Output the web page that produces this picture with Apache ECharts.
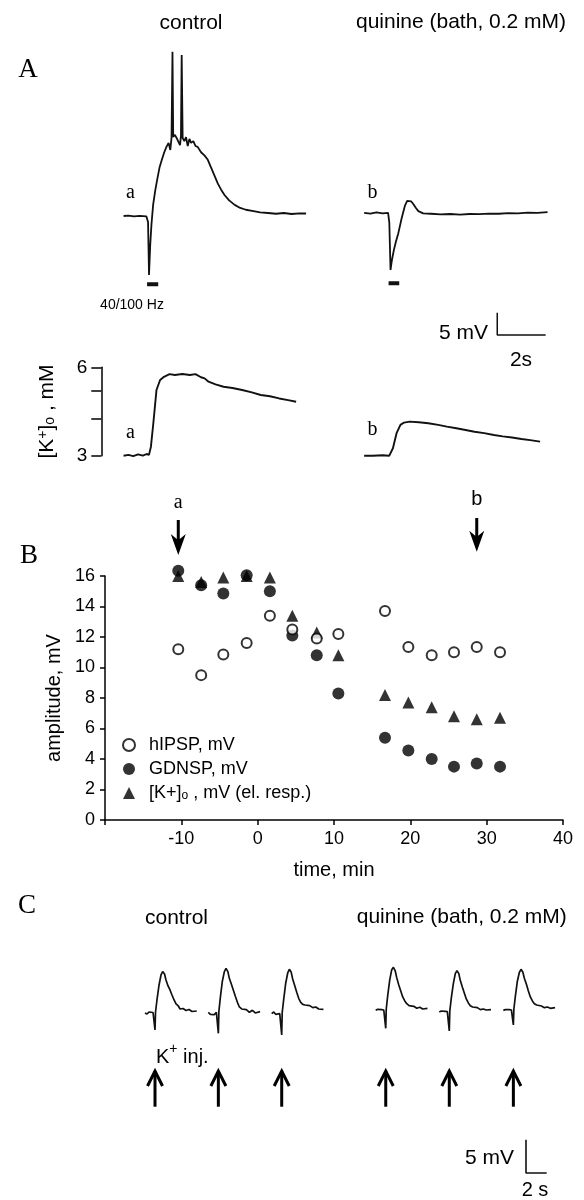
<!DOCTYPE html>
<html><head><meta charset="utf-8">
<script src="https://cdn.jsdelivr.net/npm/echarts@6/dist/echarts.min.js"></script>
<style>html,body{margin:0;padding:0;background:#fff}#c{width:584px;height:1200px}</style>
</head><body><div id="c"></div>
<script>
// ---------------- DATA ----------------
// Panel A (top): membrane potential traces, [time s, mV]
const traceControlA = [[0.00,0.00],[0.20,0.10],[0.43,-0.10],[0.66,0.05],[0.94,-0.07],[1.01,-1.35],[1.05,-13.2],[1.10,-6.5],[1.15,-2.0],[1.22,2.5],[1.31,5.8],[1.40,8.5],[1.49,11.0],[1.59,12.8],[1.68,14.3],[1.77,15.5],[1.86,16.4],[1.93,14.8],[1.98,17.5],[2.02,36.8],[2.05,17.7],[2.12,18.2],[2.19,17.5],[2.26,17.9],[2.33,15.9],[2.37,17.9],[2.40,36.1],[2.44,17.5],[2.51,16.8],[2.58,17.7],[2.65,15.7],[2.72,17.3],[2.79,16.4],[2.88,16.8],[2.97,15.7],[3.06,15.5],[3.20,14.3],[3.34,13.6],[3.48,12.6],[3.62,10.8],[3.76,9.0],[3.90,7.2],[4.03,5.9],[4.17,4.7],[4.36,3.5],[4.59,2.5],[4.82,1.8],[5.05,1.4],[5.37,1.1],[5.64,0.8],[5.97,0.67],[6.30,0.5],[6.62,0.67],[6.94,0.45],[7.27,0.6],[7.54,0.56]];
const traceQuinineA = [[9.94,0.7],[10.20,0.55],[10.45,0.8],[10.70,0.6],[10.93,0.7],[10.98,-1.5],[11.03,-12.1],[11.09,-9.8],[11.17,-7.6],[11.26,-5.6],[11.35,-3.9],[11.49,-0.5],[11.63,2.4],[11.72,3.4],[11.79,3.6],[11.88,3.3],[11.97,2.7],[12.08,1.8],[12.18,1.1],[12.38,0.6],[12.70,0.5],[13.10,0.35],[13.50,0.45],[13.90,0.3],[14.30,0.45],[14.70,0.4],[15.10,0.55],[15.50,0.5],[15.90,0.65],[16.30,0.6],[16.70,0.75],[17.10,0.7],[17.52,0.85]];
const stimBarsA = [[0.97,1.43,-15.3],[10.95,11.39,-15.1]];   // [start s, end s, level mV]
const scaleBarA = [[15.44,-21.7],[15.44,-26.7],[17.44,-26.7]]; // 5 mV / 2 s
// Panel A (bottom): [K+]o traces, [time s, mM]
const kTraceControl = [[0,3.0],[0.2,3.02],[0.4,2.99],[0.6,3.03],[0.8,3.0],[0.95,3.04],[1.05,3.02],[1.13,3.22],[1.23,3.87],[1.36,5.02],[1.51,5.43],[1.67,5.57],[1.9,5.69],[2.12,5.65],[2.43,5.69],[2.74,5.65],[2.97,5.69],[3.2,5.55],[3.35,5.5],[3.51,5.36],[3.8,5.25],[4.13,5.15],[4.5,5.1],[4.9,5.02],[5.3,4.93],[5.67,4.83],[6.05,4.78],[6.43,4.70],[6.8,4.64],[7.13,4.58]];
const kTraceQuinine = [[9.94,3.0],[10.3,3.0],[10.7,3.01],[10.98,3.0],[11.13,3.18],[11.28,3.58],[11.44,3.82],[11.59,3.89],[11.82,3.92],[12.2,3.9],[12.59,3.87],[13.0,3.82],[13.36,3.77],[13.75,3.72],[14.13,3.67],[14.5,3.62],[14.9,3.58],[15.3,3.53],[15.67,3.49],[16.05,3.46],[16.44,3.42],[16.8,3.39],[17.21,3.35]];
const kTickValues = [3,4,5,6];
const kLabelValues = [3,6];
// Panel B: amplitudes vs time
const timeB = [-10.4,-7.4,-4.5,-1.44,1.6,4.54,7.74,10.57,16.68,19.74,22.8,25.72,28.7,31.75];
const hIPSP = [11.2,9.5,10.85,11.6,13.4,12.5,11.9,12.2,13.7,11.35,10.8,11.0,11.35,11.0];
const GDNSP = [16.35,15.4,14.85,16.05,15.0,12.1,10.8,8.3,5.4,4.55,4.0,3.5,3.7,3.5];
const Kel   = [16.0,15.6,15.9,16.0,15.9,13.4,12.3,10.8,8.2,7.7,7.4,6.8,6.6,6.7];
const arrowTimesB = [-10.4, 28.7];
const arrowLabelsB = ['a','b'];
// Panel C: K+ injection responses
const injTimesC = [1.45,7.57,13.69,23.74,29.88,36.07];
const sweepTimesC = [-0.97,-0.77,-0.58,-0.39,-0.19,-0.05,0,0.05,0.19,0.39,0.58,0.74,0.92,1.06,1.26,1.45,1.64,1.84,2.03,2.25,2.42,2.71,3.0,3.29,3.57,4.03];
const sweepValuesC = [
 [0,-0.15,0.15,-0.07,0.07,0,-2.55,0.15,1.95,4.2,5.7,6.2,5.85,4.95,4.05,3.45,2.7,1.95,1.35,1.05,0.6,0.67,0.37,0.52,0.22,0.3],
 [0.1,-0.2,0.05,-0.25,0.1,-0.1,-3.05,0.2,2.3,4.8,6.2,6.7,6.2,5.2,4.3,3.4,2.5,1.6,0.9,0.6,0.35,0.5,0.1,0.4,0.0,0.2],
 [-0.1,0.15,-0.2,0.05,-0.1,0.0,-3.3,0.1,2.0,4.5,6.0,6.55,6.1,5.1,4.1,3.1,2.2,1.6,1.3,1.2,1.0,1.1,0.8,0.9,0.6,0.55],
 [0.4,0.55,0.3,0.5,0.45,0.5,-2.3,0.6,2.6,5.0,6.5,6.85,6.3,5.3,4.2,3.3,2.4,1.8,1.4,1.1,0.9,1.0,0.7,0.85,0.6,0.7],
 [0.15,0.3,0.1,0.25,0.2,0.2,-2.7,0.3,2.2,4.4,5.9,6.35,5.9,4.9,3.9,3.0,2.1,1.5,1.1,0.9,0.7,0.8,0.5,0.6,0.45,0.5],
 [0.4,0.5,0.35,0.5,0.45,0.5,-1.8,0.6,2.5,4.8,6.1,6.55,6.1,5.2,4.3,3.3,2.4,1.8,1.4,1.2,0.95,1.05,0.8,0.9,0.7,0.8]
];
const scaleBarC = [[37.29,-19],[37.29,-24],[39.29,-24]];

// ---------------- CHART ----------------
const SANS = '"Liberation Sans", Arial, Helvetica, sans-serif';
const SERIF = '"Liberation Serif", "Times New Roman", serif';
const BLACK = '#000';
const chart = echarts.init(document.getElementById('c'), null, {renderer:'canvas', width:584, height:1200});

const lineS = (data, xi, yi, w) => ({type:'line', xAxisIndex:xi, yAxisIndex:yi, data, showSymbol:false, symbol:'none', silent:true, animation:false,
  lineStyle:{color:'#111', width:w||1.8}, emphasis:{disabled:true}, clip:false});

const series = [];
series.push(lineS(traceControlA,0,0,1.8));
series.push(lineS(traceQuinineA,0,0,1.8));
stimBarsA.forEach(b => series.push(lineS([[b[0],b[2]],[b[1],b[2]]],0,0,4)));
series.push(lineS(scaleBarA,0,0,1.5));
series.push(lineS(kTraceControl,1,1,1.9));
series.push(lineS(kTraceQuinine,1,1,1.9));
const kName = '[K+]o , mV (el. resp.)';
const scat = (name, symbol, size, itemStyle, vals) => ({name, type:'scatter', xAxisIndex:2, yAxisIndex:3, symbol, symbolSize:size,
  itemStyle, data: timeB.map((t,i)=>[t,vals[i]]), clip:false, silent:true, animation:false, emphasis:{disabled:true}});
series.push(scat(kName, 'triangle', 12, {color:BLACK}, Kel));
series.push(scat('GDNSP, mV', 'circle', 12, {color:BLACK}, GDNSP));
series.push(scat('hIPSP, mV', 'circle', 10, {color:'#fff', borderColor:BLACK, borderWidth:2}, hIPSP));
sweepValuesC.forEach((vals,i) => series.push(lineS(sweepTimesC.map((t,j)=>[injTimesC[i]+t, vals[j]]),3,4,1.7)));
series.push(lineS(scaleBarC,3,4,1.6));

const axisLineStyle = {color:BLACK, width:1.5};
const richT = {
  n:{fontSize:18, fontFamily:SANS, color:BLACK, verticalAlign:'middle'},
  sub:{fontSize:12, fontFamily:SANS, color:BLACK, lineHeight:12, verticalAlign:'bottom'}
};

const option = {
  animation:false,
  backgroundColor:'#fff',
  grid:[
    {left:123.6, top:37.6, width:435.6, height:312.2, containLabel:false, outerBoundsMode:'none'},
    {left:101.3, top:367.3, width:457.9, height:88.4, containLabel:false, outerBoundsMode:'none'},
    {left:105, top:576, width:458, height:244, containLabel:false, outerBoundsMode:'none'},
    {left:140, top:946.3, width:424.4, height:233.4, containLabel:false, outerBoundsMode:'none'}
  ],
  xAxis:[
    {gridIndex:0, type:'value', min:0, max:18, show:false},
    {gridIndex:1, type:'value', min:-0.92, max:18, show:false},
    {gridIndex:2, type:'value', min:-20, max:40, interval:10,
      axisLine:{show:true, onZero:false, lineStyle:axisLineStyle},
      axisTick:{show:true, inside:false, length:5, lineStyle:axisLineStyle},
      axisLabel:{color:BLACK, fontSize:18, fontFamily:SANS, margin:10, formatter:v => v === -20 ? '' : String(v)},
      splitLine:{show:false},
      name:'time, min', nameLocation:'middle', nameGap:40,
      nameTextStyle:{color:BLACK, fontSize:20, fontFamily:SANS}},
    {gridIndex:3, type:'value', min:0, max:41, show:false}
  ],
  yAxis:[
    {gridIndex:0, type:'value', min:-30, max:40, show:false},
    {gridIndex:1, type:'log', logBase:10, min:3, max:6, show:false},
    {gridIndex:1, type:'value', position:'left', min:Math.log10(3), max:Math.log10(6),
      axisLine:{show:true, onZero:false, lineStyle:axisLineStyle},
      axisTick:{show:true, inside:false, length:10, customValues:kTickValues.map(Math.log10), lineStyle:axisLineStyle},
      axisLabel:{show:true, color:BLACK, fontSize:19, fontFamily:SANS, margin:14,
        customValues:kLabelValues.map(Math.log10), formatter:v => String(Math.round(Math.pow(10,v)))},
      splitLine:{show:false},
      name:'[K{sup|+}]{sub|o} , mM', nameLocation:'middle', nameGap:44, nameRotate:90,
      nameTextStyle:{color:BLACK, fontSize:21, fontFamily:SANS,
        rich:{sup:{fontSize:14, fontFamily:SANS, color:BLACK, verticalAlign:'top', lineHeight:14},
              sub:{fontSize:14, fontFamily:SANS, color:BLACK, verticalAlign:'bottom', lineHeight:14}}}},
    {gridIndex:2, type:'value', min:0, max:16, interval:2,
      axisLine:{show:true, onZero:false, lineStyle:axisLineStyle},
      axisTick:{show:true, inside:false, length:5, lineStyle:axisLineStyle},
      axisLabel:{color:BLACK, fontSize:18, fontFamily:SANS, margin:10},
      splitLine:{show:false},
      name:'amplitude, mV', nameLocation:'middle', nameGap:36, nameRotate:90,
      nameTextStyle:{color:BLACK, fontSize:20, fontFamily:SANS}},
    {gridIndex:3, type:'value', min:-25, max:10, show:false}
  ],
  legend:{
    orient:'vertical', left:117, top:731, itemWidth:12, itemHeight:12, itemGap:6,
    symbolKeepAspect:true,
    data:['hIPSP, mV','GDNSP, mV',kName], selectedMode:false,
    formatter: name => name === kName ? '{n|[K+]}{sub|o}{n| , mV (el. resp.)}' : '{n|' + name + '}',
    textStyle:{color:BLACK, fontSize:18, fontFamily:SANS, rich:richT, padding:[0,0,0,9]}
  },
  series
};
chart.setOption(option);

// ---------- annotations (text + arrows) ----------
const T = (text, x, y, size, opts) => Object.assign({type:'text', x, y, silent:true,
  style:Object.assign({text, fill:BLACK, fontSize:size, fontFamily:SANS, align:'center', verticalAlign:'middle',
    textAlign:'center', textVerticalAlign:'middle'}, (opts||{}))});
const serif = {fontFamily:SERIF};
const left = {align:'left', textAlign:'left'};
const right = {align:'right', textAlign:'right'};

const g = [
  T('control', 191, 23, 21),
  T('quinine (bath, 0.2 mM)', 461, 22, 21),
  T('A', 28, 70, 27, serif),
  T('a', 130.4, 193, 20, serif),
  T('b', 372.4, 193, 20, serif),
  T('40/100 Hz', 132, 305, 14),
  T('5 mV', 488, 333, 21, right),
  T('2s', 521, 360, 21),
  T('a', 130.4, 433, 20, serif),
  T('b', 372.4, 430, 20, serif),
  T('B', 29, 556, 27, serif),
  T('C', 27, 906, 27, serif),
  T('control', 145, 918, 21, left),
  T('quinine (bath, 0.2 mM)', 356.7, 917, 21, left),
  T('{n|K}{s|+}{n| inj.}', 156, 1057, 20, Object.assign({rich:{
     n:{fontSize:20, fontFamily:SANS, fill:BLACK, lineHeight:30, verticalAlign:'middle'},
     s:{fontSize:14, fontFamily:SANS, fill:BLACK, lineHeight:14, verticalAlign:'top'}}}, left)),
  T('5 mV', 465, 1158, 21, left),
  T('2 s', 535, 1190, 20)
];

// Panel B arrows (down) and labels
arrowTimesB.forEach((t, i) => {
  const p = chart.convertToPixel({xAxisIndex:2, yAxisIndex:3}, [t, 16]);
  const x = p[0];
  const tail = i === 0 ? 520 : 518, tip = i === 0 ? 555 : 551.7;
  const hw = 7.5, hh = 21;
  g.push({type:'polygon', silent:true, shape:{points:[[x, tip],[x-hw, tip-hh],[x-1.5, tip-hh+5],[x-1.5, tail],[x+1.5, tail],[x+1.5, tip-hh+5],[x+hw, tip-hh]]}, style:{fill:BLACK}});
  g.push(T(arrowLabelsB[i], x, i === 0 ? 503 : 499, 20, i === 0 ? serif : {}));
});
// Panel C arrows (up)
injTimesC.forEach(t => {
  const p = chart.convertToPixel({xAxisIndex:3, yAxisIndex:4}, [t, 0]);
  const x = p[0], tail = 1106.7, tip = 1070;
  g.push({type:'line', silent:true, shape:{x1:x, y1:tail, x2:x, y2:tip+1}, style:{stroke:BLACK, lineWidth:3}});
  g.push({type:'polyline', silent:true, shape:{points:[[x-7.5, tip+16],[x, tip+1],[x+7.5, tip+16]]}, style:{stroke:BLACK, lineWidth:3, fill:null}});
});
chart.setOption({graphic:{elements:g}});
</script></body></html>
